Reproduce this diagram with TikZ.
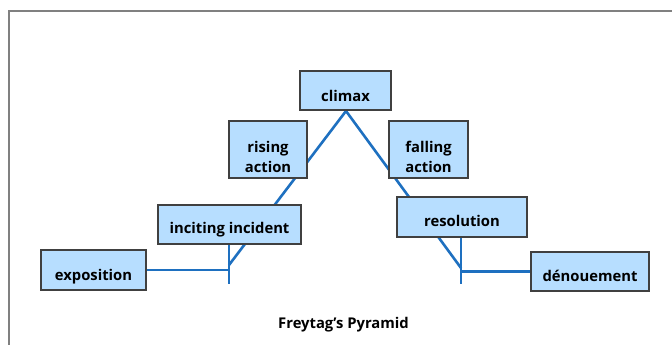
\documentclass[tikz,border=0pt]{standalone}
\usepackage{fontspec}
\setmainfont{Open Sans}
\usetikzlibrary{backgrounds}
\definecolor{boxfill}{RGB}{183,222,255}
\definecolor{boxline}{RGB}{64,64,64}
\definecolor{pyr}{RGB}{30,112,192}
\definecolor{frame}{RGB}{128,128,128}
\newcommand{\lowtxt}[2]{\raisebox{-#1}[0pt][0pt]{#2}}
\newcommand{\twoline}[2]{\begin{tabular}[b]{@{}c@{}}#1\\#2\end{tabular}}
\begin{document}
\begin{tikzpicture}[x=1pt,y=-1pt,
  box/.style={draw=boxline,line width=1.3pt,fill=boxfill,inner sep=0pt,
    font=\bfseries\fontsize{14.8}{20}\selectfont},
  pline/.style={draw=pyr,line width=2.6pt}]
\useasboundingbox (0,0) rectangle (672,345);
\draw[frame,line width=2pt] (672,11) -- (9,11) -- (9,345);
\node[box,minimum width=91pt,minimum height=39pt] (climax) at (345.5,90.5) {\lowtxt{11pt}{climax}};
\node[box,minimum width=78pt,minimum height=57pt] (rising) at (268,149.5) {\lowtxt{23pt}{\twoline{rising}{action}}};
\node[box,minimum width=143pt,minimum height=39pt] (inciting) at (229.5,224.5) {\lowtxt{8.5pt}{inciting incident}};
\node[box,minimum width=105pt,minimum height=40pt] (expo) at (93.5,270) {\lowtxt{10pt}{exposition}};
\node[box,minimum width=79pt,minimum height=57pt] (falling) at (428.5,149.5) {\lowtxt{23pt}{\twoline{falling}{action}}};
\node[box,minimum width=130pt,minimum height=40pt] (resol) at (462,217) {\lowtxt{9.5pt}{resolution}};
\node[box,minimum width=118pt,minimum height=39pt] (denoue) at (590,271.5) {\lowtxt{10pt}{dénouement}};
\node[font=\bfseries\fontsize{14.8}{18}\selectfont] (title) at (343.5,325) {Freytag’s Pyramid};
\coordinate (apex) at (346,111);
\coordinate (lbase) at (229,265);
\coordinate (rbase) at (461,268);
\coordinate (ltick) at (229,284);
\coordinate (rtick) at (461,284);
\begin{scope}[on background layer]
\draw[pline] (apex) -- (lbase);
\draw[pline] (apex) -- (rbase);
\draw[pline] (inciting.south -| lbase) -- (ltick);
\draw[pline] (resol.south -| rbase) -- (rtick);
\draw[pline] (expo.east) -- (expo.east -| lbase);
\draw[pline] (denoue.west) -- (denoue.west -| rbase);
\end{scope}
\end{tikzpicture}
\end{document}
